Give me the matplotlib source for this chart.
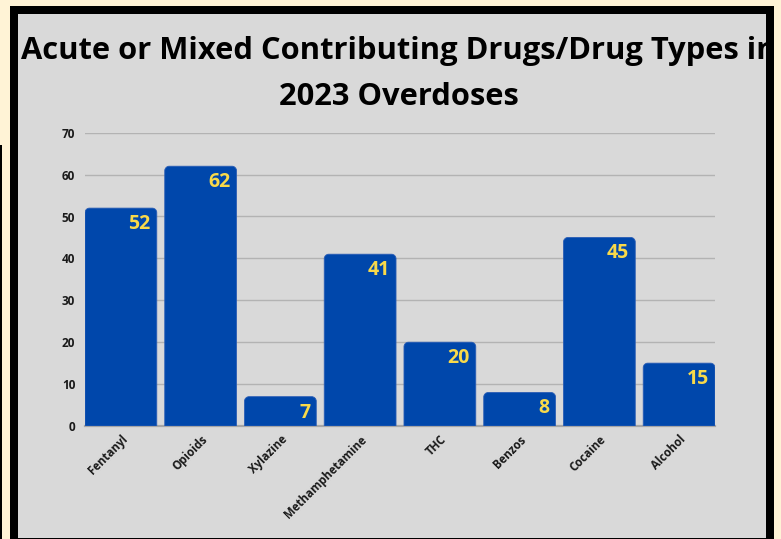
import matplotlib
matplotlib.use("Agg")
import matplotlib.pyplot as plt
from matplotlib.patches import Rectangle, PathPatch
from matplotlib.path import Path

categories = ["Fentanyl", "Opioids", "Xylazine", "Methamphetamine",
              "THC", "Benzos", "Cocaine", "Alcohol"]
counts = [52, 62, 7, 41, 20, 8, 45, 15]
y_ticks = [0, 10, 20, 30, 40, 50, 60, 70]

title = "Acute or Mixed Contributing Drugs/Drug Types in\n2023 Overdoses"

CREAM = "#FFF3D6"
PANEL = "#D9D9D9"
BAR = "#0047AB"
LABEL = "#F8D94A"
GRID = "#B3B3B3"
FONT = ["Open Sans", "DejaVu Sans"]

W, H = 781, 539
fig = plt.figure(figsize=(W / 100, H / 100), dpi=100)
fig.patch.set_facecolor(CREAM)


def px_rect(x0, y0, x1, y1, color, z):
    # rectangle given in pixel coordinates measured from the top-left corner
    r = Rectangle((x0 / W, 1 - y1 / H), (x1 - x0) / W, (y1 - y0) / H,
                  transform=fig.transFigure, facecolor=color,
                  edgecolor="none", zorder=z)
    fig.patches.append(r)
    return r


# framed panel
px_rect(10, 6, 774, 560, "black", 0)
panel = px_rect(18, 14, 766, 538, PANEL, 1)
px_rect(0, 145, 2, 560, "black", 0)

ax = fig.add_axes([85 / W, 1 - 426 / H, 630 / W, (426 - 132.7) / H])
ax.set_facecolor("none")
ax.set_zorder(2)

x = list(range(len(categories)))
bars = ax.bar(x, counts, width=0.9, color=BAR, zorder=3)
ax.set_xlim(-0.45, len(categories) - 0.55)
ax.set_ylim(0, 70)

# replace the plain bars with bars that have rounded top corners
fig.canvas.draw()
px_x = ax.transData.transform((1, 0))[0] - ax.transData.transform((0, 0))[0]
px_y = ax.transData.transform((0, 1))[1] - ax.transData.transform((0, 0))[1]
r_px = 4.5
rx, ry = r_px / px_x, r_px / px_y
k = 0.5523
for b in bars:
    x0, w, h = b.get_x(), b.get_width(), b.get_height()
    x1 = x0 + w
    verts = [(x0, 0), (x0, h - ry),
             (x0, h - ry + k * ry), (x0 + rx - k * rx, h), (x0 + rx, h),
             (x1 - rx, h),
             (x1 - rx + k * rx, h), (x1, h - ry + k * ry), (x1, h - ry),
             (x1, 0), (x0, 0)]
    codes = [Path.MOVETO, Path.LINETO,
             Path.CURVE4, Path.CURVE4, Path.CURVE4,
             Path.LINETO,
             Path.CURVE4, Path.CURVE4, Path.CURVE4,
             Path.LINETO, Path.CLOSEPOLY]
    ax.add_patch(PathPatch(Path(verts, codes), facecolor=BAR,
                           edgecolor="#2A5DB5", linewidth=0.6, zorder=3))
    b.set_visible(False)
    ax.annotate(f"{h:g}", xy=(x1, h), xytext=(-6, -6), textcoords="offset pixels",
                ha="right", va="top", color=LABEL, fontsize=14,
                fontweight="bold", family=FONT, zorder=4)

ax.set_yticks(y_ticks)
ax.set_xticks(x)
ax.set_xticklabels(categories, rotation=45, ha="right", rotation_mode="anchor",
                   fontsize=8.3, fontweight="bold", family=FONT, color="#1A1A1A")
for lab in ax.get_yticklabels():
    lab.set_fontsize(8.5)
    lab.set_fontweight("bold")
    lab.set_family(FONT)
    lab.set_color("#1A1A1A")
ax.tick_params(axis="both", length=0)
ax.tick_params(axis="y", pad=7)
ax.tick_params(axis="x", pad=5)
ax.grid(axis="y", color=GRID, linewidth=1.0, zorder=1)
ax.set_axisbelow(True)
for s in ["top", "right", "left"]:
    ax.spines[s].set_visible(False)
ax.spines["bottom"].set_color("#A6A6A6")
ax.spines["bottom"].set_linewidth(1.6)

t = fig.text(399 / W, 1 - 36 / H, title, ha="center", va="top", fontsize=22.2,
             fontweight="bold", family=FONT, color="black", linespacing=1.7)
t.set_clip_path(panel)

fig.savefig("out.png", dpi=100, facecolor=CREAM)
